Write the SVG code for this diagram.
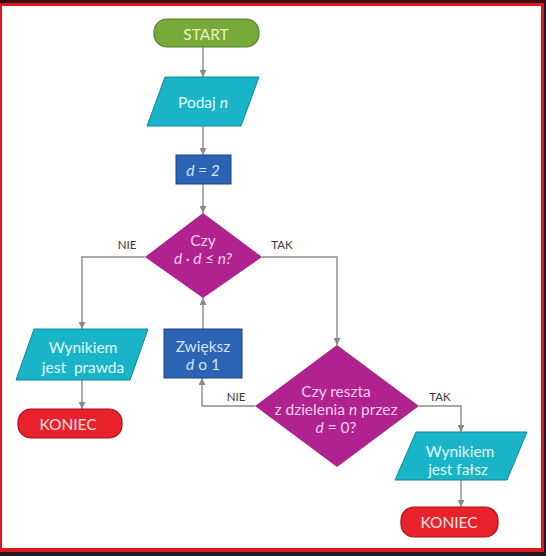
<svg xmlns="http://www.w3.org/2000/svg" width="546" height="556" viewBox="0 0 546 556">
<style>
.t{font-family:Lato,"Open Sans","Liberation Sans",sans-serif;font-size:15.5px;text-anchor:middle;dominant-baseline:central}
.lbl{font-family:Lato,"Open Sans","Liberation Sans",sans-serif;font-size:11.5px;fill:#3a3a3a;text-anchor:middle;dominant-baseline:central}
.term{fill:#77aa3a;stroke:#557f28;stroke-width:1.2}
.end{fill:#e8212b;stroke:#a8121a;stroke-width:1.2}
.io{fill:#19b4c8;stroke:#0f8797;stroke-width:1}
.proc{fill:#2b63b5;stroke:#1b4585;stroke-width:1}
.dec{fill:#b0228e}
.c line,.c polyline{fill:none;stroke:#8a8a8a;stroke-width:1.4}
</style>
<defs>
<marker id="ah" viewBox="0 0 10 10" refX="10" refY="5" markerWidth="7" markerHeight="7" markerUnits="userSpaceOnUse" orient="auto">
<path d="M0,0 L10,5 L0,10 z" fill="#8a8a8a"/>
</marker>
</defs>
<rect x="0" y="0" width="546" height="556" fill="#1b1a26"/>
<rect x="0" y="2" width="544" height="550" fill="#e3141c"/>
<rect x="0" y="0" width="546" height="3" fill="#3a0c10"/>
<rect x="2" y="6" width="539" height="542" fill="#ffffff"/>

<g class="c">
<line x1="203" y1="47" x2="203" y2="77" marker-end="url(#ah)"/>
<line x1="203" y1="126" x2="203" y2="155" marker-end="url(#ah)"/>
<line x1="203" y1="184" x2="203" y2="213" marker-end="url(#ah)"/>
<polyline points="145,257 82,257 82,329" marker-end="url(#ah)"/>
<polyline points="262,257 337,257 337,345" marker-end="url(#ah)"/>
<line x1="82" y1="380" x2="82" y2="409" marker-end="url(#ah)"/>
<line x1="203" y1="329" x2="203" y2="298" marker-end="url(#ah)"/>
<polyline points="255,406 202,406 202,378" marker-end="url(#ah)"/>
<polyline points="419,406 461,406 461,432" marker-end="url(#ah)"/>
<line x1="461" y1="480" x2="461" y2="507" marker-end="url(#ah)"/>
</g>
<g id="lbl-nie1"><text class="lbl" x="127" y="244">NIE</text></g>
<g id="lbl-tak1"><text class="lbl" x="282" y="244">TAK</text></g>
<g id="lbl-nie2"><text class="lbl" x="236" y="396">NIE</text></g>
<g id="lbl-tak2"><text class="lbl" x="440" y="396">TAK</text></g>

<g id="start">
<rect class="term" x="154" y="19" width="105" height="28" rx="13"/>
<text class="t" x="206" y="34" fill="#e9f5bd">START</text>
</g>
<g id="podaj">
<polygon class="io" points="165,77 259,77 241,126 147,126"/>
<text class="t" x="203" y="102" fill="#e2f8fb">Podaj <tspan font-style="italic">n</tspan></text>
</g>
<g id="d2">
<rect class="proc" x="176" y="155" width="55" height="29"/>
<text class="t" x="203" y="170" fill="#d3e3ff" font-style="italic">d = 2</text>
</g>
<g id="dec1">
<polygon class="dec" points="203,213 262,257 203,298 145,257"/>
<text class="t" x="203" y="240" fill="#f7cdee">Czy</text>
<text class="t" x="203" y="258" fill="#f7cdee" font-style="italic">d · d ≤ n?</text>
</g>
<g id="prawda">
<polygon class="io" points="34,329 148,329 130,380 16,380"/>
<text class="t" x="83" y="347" fill="#e2f8fb">Wynikiem</text>
<text class="t" x="83" y="367" fill="#e2f8fb" xml:space="preserve">jest  prawda</text>
</g>
<g id="koniec1">
<rect class="end" x="18" y="409" width="104" height="29" rx="13"/>
<text class="t" x="68" y="424" fill="#fde3e4">KONIEC</text>
</g>
<g id="zwieksz">
<rect class="proc" x="164" y="329" width="78" height="49"/>
<text class="t" x="203" y="346" fill="#d3e3ff">Zwiększ</text>
<text class="t" x="203" y="364" fill="#d3e3ff"><tspan font-style="italic">d</tspan> o 1</text>
</g>
<g id="dec2">
<polygon class="dec" points="337,345 419,406 337,467 255,406"/>
<text class="t" x="336" y="391" fill="#f7cdee">Czy reszta</text>
<text class="t" x="336" y="409" fill="#f7cdee">z dzielenia <tspan font-style="italic">n</tspan> przez</text>
<text class="t" x="336" y="427" fill="#f7cdee"><tspan font-style="italic">d</tspan> = 0?</text>
</g>
<g id="falsz">
<polygon class="io" points="416,432 527,432 507,480 395,480"/>
<text class="t" x="460" y="451" fill="#e2f8fb">Wynikiem</text>
<text class="t" x="458" y="469" fill="#e2f8fb">jest fałsz</text>
</g>
<g id="koniec2">
<rect class="end" x="401" y="507" width="97" height="30" rx="13"/>
<text class="t" x="449" y="522" fill="#fde3e4">KONIEC</text>
</g>
</svg>
